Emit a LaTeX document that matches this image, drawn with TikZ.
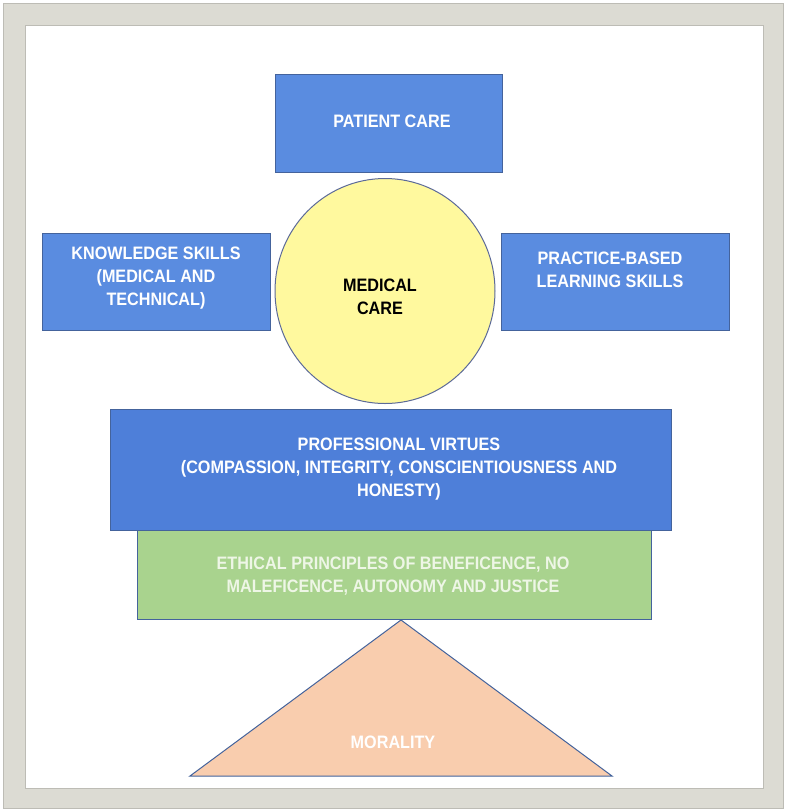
\documentclass[tikz,border=0pt]{standalone}
\usepackage{fontspec}
\setmainfont{Liberation Sans}[FakeStretch=0.9]
\usetikzlibrary{shapes.geometric}
\definecolor{framegray}{HTML}{DCDBD3}
\definecolor{frameedge}{HTML}{BDBCB5}
\definecolor{boxblue}{HTML}{5A8CE0}
\definecolor{boxblueB}{HTML}{4E7FD9}
\definecolor{boxedge}{HTML}{44639C}
\definecolor{circfill}{HTML}{FFF99E}
\definecolor{circedge}{HTML}{5C6A98}
\definecolor{greenfill}{HTML}{A9D38E}
\definecolor{greentext}{HTML}{EEF6E6}
\definecolor{peachfill}{HTML}{F9CDAE}
\tikzset{
  bluebox/.style={rectangle, draw=boxedge, line width=1pt, fill=boxblue, inner sep=0pt},
  boxtext/.style={text=white, align=center, font=\fontsize{18}{23.3}\selectfont\bfseries, inner sep=0pt},
}
\begin{document}
\begin{tikzpicture}[x=1pt,y=-1pt]
\useasboundingbox (0,0) rectangle (787,812);
% frame
\fill[framegray] (3,3) rectangle (783,808);
\draw[frameedge, line width=0.8pt] (3,3) rectangle (783,808);
\fill[white] (25,25) rectangle (763,788);
\draw[frameedge, line width=0.8pt] (25,25) rectangle (763,788);

% boxes
\node[bluebox, minimum width=227pt, minimum height=98pt] (pcbox) at (388.5,123) {};
\node[bluebox, minimum width=228pt, minimum height=97pt] (ksbox) at (156,281.5) {};
\node[bluebox, minimum width=228pt, minimum height=97pt] (pbbox) at (615,281.5) {};
\node[ellipse, draw=circedge, line width=1pt, fill=circfill, minimum width=220pt, minimum height=225pt, inner sep=0pt] (mc) at (385,291) {};

\node[rectangle, draw=boxedge, line width=1pt, fill=greenfill, minimum width=514pt, minimum height=89pt, inner sep=0pt] (epbox) at (394,574.5) {};
\node[bluebox, fill=boxblueB, minimum width=561pt, minimum height=121pt] (pvbox) at (390.5,469.5) {};

% triangle
\coordinate (apex) at (401,620);
\coordinate (bl) at (190,776);
\coordinate (br) at (612,776);
\draw[boxedge, line width=1pt, fill=peachfill, line join=miter] (apex) -- (br) -- (bl) -- cycle;

% texts
\node[boxtext] (pct) at (392,121) {PATIENT CARE};
\node[boxtext] (kst) at (156,278) {KNOWLEDGE SKILLS\\(MEDICAL AND\\TECHNICAL)};
\node[boxtext] (pbt) at (610,270) {PRACTICE-BASED\\LEARNING SKILLS};
\node[boxtext, text=black] (mct) at (380,296.5) {MEDICAL\\CARE};
\node[boxtext] (pvt) at (399,469) {PROFESSIONAL VIRTUES\\(COMPASSION, INTEGRITY, CONSCIENTIOUSNESS AND\\HONESTY)};
\node[boxtext, text=greentext] (ept) at (393,576) {ETHICAL PRINCIPLES OF BENEFICENCE, NO\\MALEFICENCE, AUTONOMY AND JUSTICE};
\node[boxtext] (mot) at (393,742) {MORALITY};
\end{tikzpicture}
\end{document}
